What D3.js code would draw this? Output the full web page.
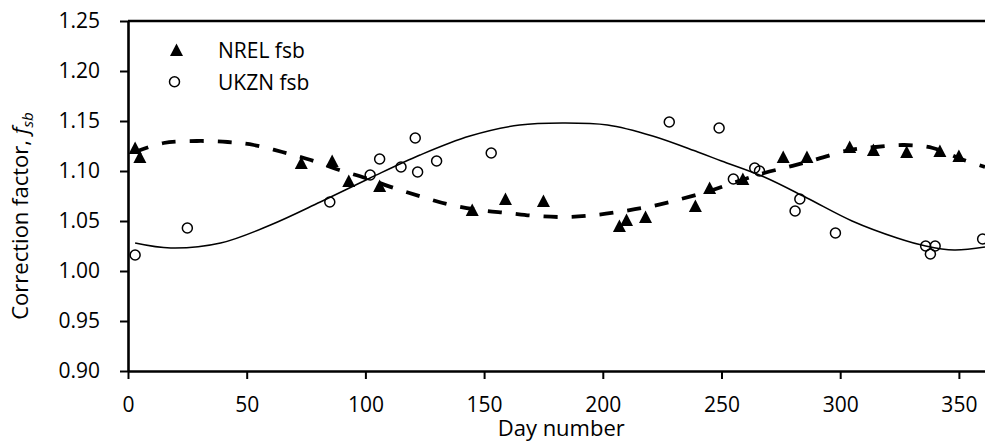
<!DOCTYPE html>
<html>
<head>
<meta charset="utf-8">
<script src="https://cdn.jsdelivr.net/npm/d3@7"></script>
<style>
  body { margin: 0; background: #fff; }
  svg { display: block; font-family: "Open Sans", sans-serif; }
</style>
</head>
<body>
<div id="chart"></div>
<script>
var svgWidth = 985;
var svgHeight = 441;

// NREL fsb measured points (triangles)
var nrelDay = [3, 5, 73, 86, 93, 106, 145, 159, 175, 207, 210, 218, 239, 245, 259, 276, 286, 304, 314, 328, 342, 350];
var nrelFsb = [1.123, 1.114, 1.108, 1.110, 1.090, 1.085, 1.061, 1.072, 1.070, 1.045, 1.051, 1.054, 1.065, 1.083, 1.092, 1.114, 1.114, 1.124, 1.121, 1.119, 1.120, 1.115];

// UKZN fsb measured points (open circles)
var ukznDay = [3, 25, 85, 102, 106, 115, 121, 122, 130, 153, 228, 249, 255, 264, 266, 283, 281, 298, 336, 340, 338, 360];
var ukznFsb = [1.016, 1.043, 1.069, 1.096, 1.112, 1.104, 1.133, 1.099, 1.110, 1.118, 1.149, 1.143, 1.092, 1.103, 1.100, 1.072, 1.060, 1.038, 1.025, 1.025, 1.017, 1.032];

// fitted curves
var nrelFitDay = [3, 15, 29, 42, 53, 65, 77, 89, 100, 112, 124, 136, 148, 160, 172, 185, 197, 209, 221, 233, 245, 256, 268, 278, 289, 304, 315, 327, 339, 352, 361];
var nrelFitFsb = [1.119, 1.128, 1.130, 1.129, 1.126, 1.119, 1.111, 1.101, 1.093, 1.083, 1.074, 1.066, 1.061, 1.058, 1.055, 1.054, 1.056, 1.060, 1.065, 1.072, 1.080, 1.089, 1.098, 1.104, 1.111, 1.121, 1.124, 1.126, 1.123, 1.111, 1.104];

var ukznFitDay = [3, 18, 39, 60, 81, 102, 123, 144, 165, 183, 202, 221, 240, 250, 268, 286, 305, 324, 336, 348, 361];
var ukznFitFsb = [1.028, 1.023, 1.028, 1.046, 1.069, 1.093, 1.116, 1.135, 1.146, 1.148, 1.146, 1.135, 1.119, 1.110, 1.094, 1.073, 1.050, 1.033, 1.025, 1.021, 1.024];

var xTicks = [0, 50, 100, 150, 200, 250, 300, 350];
var yTicks = [0.90, 0.95, 1.00, 1.05, 1.10, 1.15, 1.20, 1.25];

var margin = { top: 21, left: 128 };
var plotBottom = 371;
var plotRight = 994.5;

var svg = d3.select("#chart")
  .append("svg")
  .attr("width", svgWidth)
  .attr("height", svgHeight);

var x = d3.scaleLinear().domain([0, 365]).range([margin.left, plotRight]);
var y = d3.scaleLinear().domain([0.90, 1.25]).range([plotBottom, margin.top]);

// axes
var xAxis = d3.axisBottom(x).tickValues(xTicks).tickSize(8).tickSizeOuter(0).tickPadding(18)
  .tickFormat(d3.format("d"));
var yAxis = d3.axisLeft(y).tickValues(yTicks).tickSize(8).tickSizeOuter(0).tickPadding(20)
  .tickFormat(d3.format(".2f"));

var gx = svg.append("g").attr("transform", `translate(0, ${plotBottom})`).call(xAxis);
var gy = svg.append("g").attr("transform", `translate(${margin.left}, 0)`).call(yAxis);

[gx, gy].forEach(function(g) {
  g.select(".domain").attr("stroke", "#000").attr("stroke-width", 2.6);
  g.selectAll(".tick line").attr("stroke", "#000").attr("stroke-width", 2);
  g.selectAll(".tick text").attr("fill", "#000").style("font-size", "21px").style("font-family", "'Open Sans', sans-serif");
});

// top border
svg.append("line")
  .attr("x1", x(0)).attr("x2", x(365))
  .attr("y1", y(1.25)).attr("y2", y(1.25))
  .attr("stroke", "#000").attr("stroke-width", 2.6);

// fitted lines
var lineGen = d3.line()
  .x(d => x(d[0]))
  .y(d => y(d[1]))
  .curve(d3.curveCatmullRom);

svg.append("path")
  .datum(ukznFitDay.map((d, i) => [d, ukznFitFsb[i]]))
  .attr("d", lineGen)
  .attr("fill", "none")
  .attr("stroke", "#000")
  .attr("stroke-width", 1.5);

svg.append("path")
  .datum(nrelFitDay.map((d, i) => [d, nrelFitFsb[i]]))
  .attr("d", lineGen)
  .attr("fill", "none")
  .attr("stroke", "#000")
  .attr("stroke-width", 3.8)
  .attr("stroke-dasharray", "14,14");

// markers
var triPath = "M0,-6.5L6.5,6L-6.5,6Z";

svg.selectAll(".nrel")
  .data(nrelDay.map((d, i) => [d, nrelFsb[i]]))
  .enter()
  .append("path")
  .attr("class", "nrel")
  .attr("d", triPath)
  .attr("transform", d => `translate(${x(d[0])}, ${y(d[1])})`)
  .attr("fill", "#000");

svg.selectAll(".ukzn")
  .data(ukznDay.map((d, i) => [d, ukznFsb[i]]))
  .enter()
  .append("circle")
  .attr("class", "ukzn")
  .attr("cx", d => x(d[0]))
  .attr("cy", d => y(d[1]))
  .attr("r", 5)
  .attr("fill", "none")
  .attr("stroke", "#000")
  .attr("stroke-width", 1.5);

// legend
var legend = svg.append("g").attr("transform", "translate(176, 0)");
legend.append("path").attr("d", triPath).attr("transform", "translate(0.5, 50)").attr("fill", "#000");
legend.append("circle").attr("cx", -1.5).attr("cy", 81.7).attr("r", 5)
  .attr("fill", "none").attr("stroke", "#000").attr("stroke-width", 1.5);
legend.append("text").attr("x", 42).attr("y", 57.5).style("font-size", "21px").text("NREL fsb");
legend.append("text").attr("x", 42).attr("y", 89.5).style("font-size", "21px").text("UKZN fsb");

// axis titles
svg.append("text")
  .attr("x", (x(0) + x(365)) / 2)
  .attr("y", 436)
  .attr("text-anchor", "middle")
  .style("font-size", "22px")
  .text("Day number");

var yLabel = svg.append("text")
  .attr("transform", "translate(28, 216) rotate(-90)")
  .attr("text-anchor", "middle")
  .style("font-size", "22px");
yLabel.append("tspan").text("Correction factor, ");
yLabel.append("tspan").style("font-style", "italic").text("f");
yLabel.append("tspan").style("font-style", "italic").style("font-size", "15px").attr("dy", 5).text("sb");
</script>
</body>
</html>
